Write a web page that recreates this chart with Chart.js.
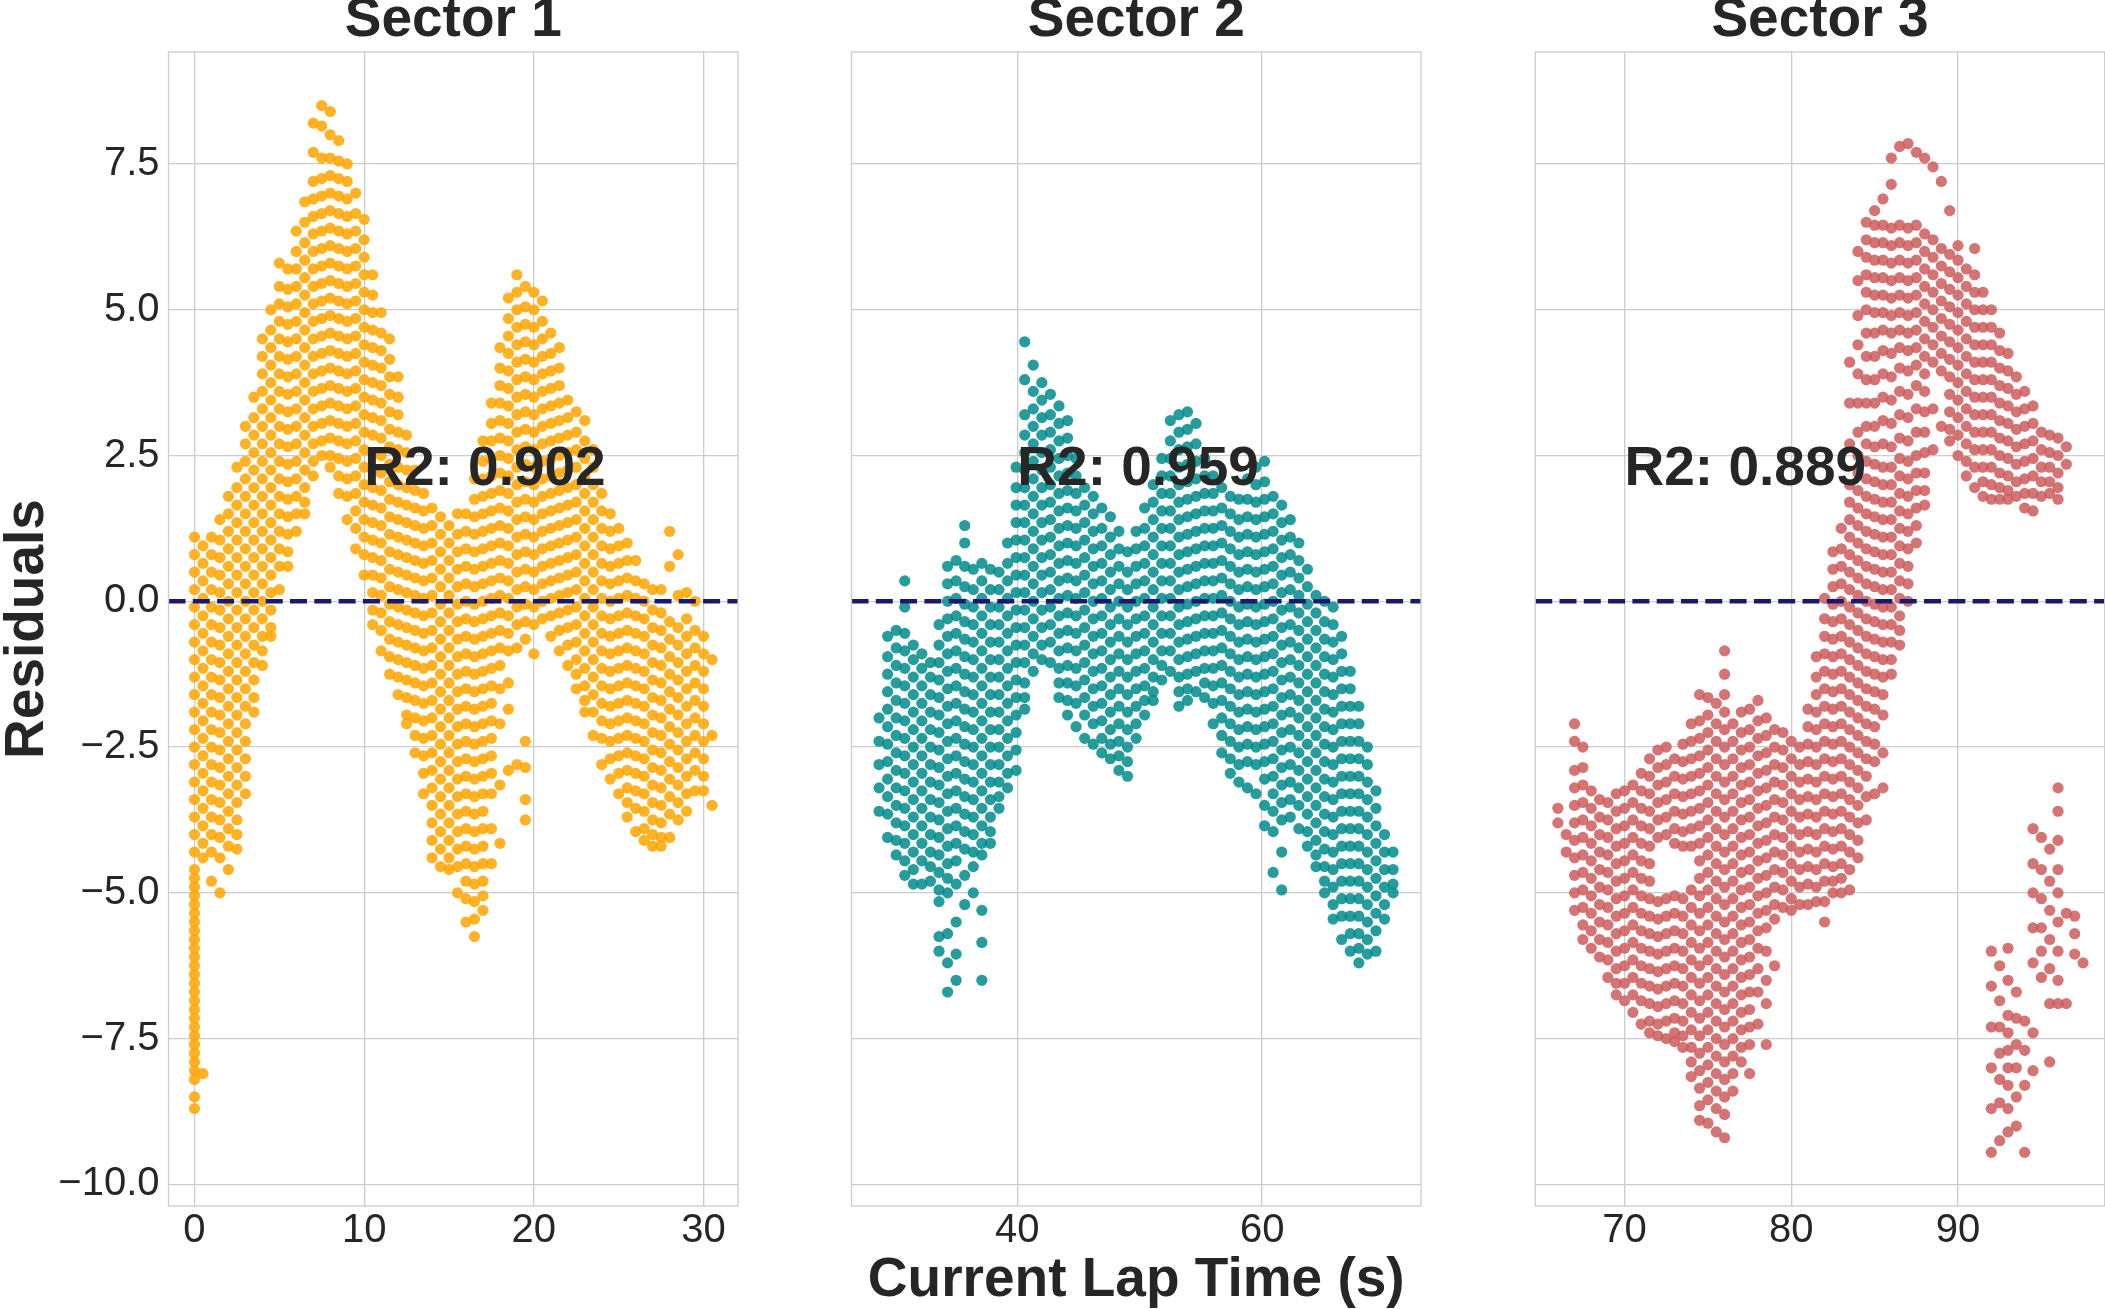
<!DOCTYPE html>
<html>
<head>
<meta charset="utf-8">
<script src="https://cdn.jsdelivr.net/npm/chart.js@4.4.1/dist/chart.umd.min.js"></script>
<style>
  html, body { margin: 0; padding: 0; background: #fff; width: 2105px; height: 1309px; overflow: hidden; }
  canvas { position: absolute; top: 0; }
</style>
</head>
<body>
<canvas id="sector1" width="760" height="1309" style="left:0px"></canvas>
<canvas id="sector2" width="612" height="1309" style="left:830px"></canvas>
<canvas id="sector3" width="612" height="1309" style="left:1514px"></canvas>
<script>
// ---- data ----
const sectorNames = ["Sector 1", "Sector 2", "Sector 3"];
const r2Scores = [0.902, 0.959, 0.889];
const r2LabelX = [10, 40, 70];
const r2LabelY = 2;
const yTicks = [-10, -7.5, -5, -2.5, 0, 2.5, 5, 7.5];
const xTicks1 = [0, 10, 20, 30];
const xTicks2 = [40, 60];
const xTicks3 = [70, 80, 90];

// residuals per lap-time column: [time, [residuals...]]
const sector1Cols = [
  [0, [1.1,0.8,0.5,0.2,-0.1,-0.4,-0.7,-1.0,-1.3,-1.6,-1.9,-2.2,-2.5,-2.8,-3.1,-3.4,-3.7,-4.0,-4.3,-4.6,-4.75,-4.9,-5.05,-5.2,-5.35,-5.5,-5.65,-5.8,-5.95,-6.1,-6.25,-6.4,-6.55,-6.7,-6.85,-7.0,-7.15,-7.3,-7.45,-7.6,-7.75,-7.9,-8.05,-8.2,-8.5,-8.7]],
  [0.5, [0.95,0.65,0.35,0.05,-0.25,-0.55,-0.85,-1.15,-1.45,-1.75,-2.05,-2.35,-2.65,-2.95,-3.25,-3.55,-3.85,-4.15,-4.4,-8.1]],
  [1, [1.1,0.8,0.5,0.2,-0.1,-0.4,-0.7,-1.0,-1.3,-1.6,-1.9,-2.2,-2.5,-2.8,-3.1,-3.4,-3.7,-4.0,-4.3,-4.8]],
  [1.5, [1.4,1.05,0.75,0.45,0.15,-0.15,-0.45,-0.75,-1.05,-1.35,-1.65,-1.95,-2.25,-2.55,-2.85,-3.15,-3.45,-3.75,-4.05,-4.4,-5.0]],
  [2, [1.8,1.5,1.2,0.9,0.6,0.3,0.0,-0.3,-0.6,-0.9,-1.2,-1.5,-1.8,-2.1,-2.4,-2.7,-3.0,-3.3,-3.6,-3.9,-4.2,-4.6]],
  [2.5, [2.3,1.95,1.65,1.35,1.05,0.75,0.45,0.15,-0.15,-0.45,-0.75,-1.05,-1.35,-1.65,-1.95,-2.25,-2.55,-2.85,-3.15,-3.45,-3.75,-4.0,-4.25]],
  [3, [3.0,2.7,2.4,2.1,1.8,1.5,1.2,0.9,0.6,0.3,0.0,-0.3,-0.6,-0.9,-1.2,-1.5,-1.8,-2.1,-2.4,-2.7,-3.0,-3.3]],
  [3.5, [3.5,3.15,2.85,2.55,2.25,1.95,1.65,1.35,1.05,0.75,0.45,0.15,-0.15,-0.45,-0.75,-1.05,-1.35,-1.65,-1.9]],
  [4, [4.5,4.2,3.9,3.6,3.3,3.0,2.7,2.4,2.1,1.8,1.5,1.2,0.9,0.6,0.3,0.0,-0.3,-0.6,-0.85,-1.1]],
  [4.5, [5.0,4.65,4.35,4.05,3.75,3.45,3.15,2.85,2.55,2.25,1.95,1.65,1.35,1.05,0.75,0.45,0.15,-0.15,-0.45,-0.6]],
  [5, [5.8,5.4,5.1,4.8,4.5,4.2,3.9,3.6,3.3,3.0,2.7,2.4,2.1,1.8,1.5,1.2,0.9,0.6,0.2]],
  [5.5, [5.7,5.35,5.05,4.75,4.45,4.15,3.85,3.55,3.25,2.95,2.65,2.35,2.05,1.75,1.45,1.15,0.85,0.6]],
  [6, [6.35,6.0,5.7,5.4,5.1,4.8,4.5,4.2,3.9,3.6,3.3,3.0,2.7,2.4,2.1,1.8,1.5,1.2]],
  [6.5, [6.85,6.5,6.15,5.85,5.55,5.25,4.95,4.65,4.35,4.05,3.75,3.45,3.15,2.85,2.55,2.25,1.95,1.7,1.5]],
  [7, [8.2,7.7,7.2,6.9,6.6,6.3,6.0,5.7,5.4,5.1,4.8,4.5,4.2,3.9,3.6,3.3,3.0,2.7,2.4,2.15]],
  [7.5, [8.5,8.15,7.6,7.25,6.95,6.65,6.35,6.05,5.75,5.45,5.15,4.85,4.55,4.25,3.95,3.65,3.35,3.05,2.75,2.5]],
  [8, [8.4,8.0,7.6,7.3,7.0,6.7,6.4,6.1,5.8,5.5,5.2,4.9,4.6,4.3,4.0,3.7,3.4,3.1,2.8,2.5,2.3]],
  [8.5, [7.9,7.55,7.25,6.95,6.65,6.35,6.05,5.75,5.45,5.15,4.85,4.55,4.25,3.95,3.65,3.35,3.05,2.75,2.45,2.15,1.85]],
  [9, [7.5,7.2,6.9,6.6,6.3,6.0,5.7,5.4,5.1,4.8,4.5,4.2,3.9,3.6,3.3,3.0,2.7,2.4,2.1,1.8,1.4]],
  [9.5, [7.0,6.65,6.35,6.05,5.75,5.45,5.15,4.85,4.55,4.25,3.95,3.65,3.35,3.05,2.75,2.45,2.15,1.85,1.55,1.25,0.9]],
  [10, [6.55,6.2,5.9,5.6,5.3,5.0,4.7,4.4,4.1,3.8,3.5,3.2,2.9,2.6,2.3,2.0,1.7,1.4,1.1,0.8,0.45]],
  [10.5, [5.6,5.25,4.95,4.65,4.35,4.05,3.75,3.45,3.15,2.85,2.55,2.25,1.95,1.65,1.35,1.05,0.75,0.45,0.15,-0.15,-0.4]],
  [11, [4.95,4.6,4.3,4.0,3.7,3.4,3.1,2.8,2.5,2.2,1.9,1.6,1.3,1.0,0.7,0.4,0.1,-0.2,-0.5,-0.85]],
  [11.5, [4.5,4.15,3.85,3.55,3.25,2.95,2.65,2.35,2.05,1.75,1.45,1.15,0.85,0.55,0.25,-0.05,-0.35,-0.65,-0.95,-1.25]],
  [12, [3.85,3.5,3.2,2.9,2.6,2.3,2.0,1.7,1.4,1.1,0.8,0.5,0.2,-0.1,-0.4,-0.7,-1.0,-1.3,-1.6]],
  [12.5, [2.85,2.55,2.25,1.95,1.65,1.35,1.05,0.75,0.45,0.15,-0.15,-0.45,-0.75,-1.05,-1.35,-1.65,-1.95,-2.1]],
  [13, [2.25,1.9,1.6,1.3,1.0,0.7,0.4,0.1,-0.2,-0.5,-0.8,-1.1,-1.4,-1.7,-2.0,-2.3,-2.6]],
  [13.5, [1.85,1.55,1.25,0.95,0.65,0.35,0.05,-0.25,-0.55,-0.85,-1.15,-1.45,-1.75,-2.05,-2.35,-2.65,-2.95,-3.3]],
  [14, [1.6,1.3,1.0,0.7,0.4,0.1,-0.2,-0.5,-0.8,-1.1,-1.4,-1.7,-2.0,-2.3,-2.6,-2.9,-3.2,-3.5,-3.8,-4.1,-4.4]],
  [14.5, [1.45,1.15,0.85,0.55,0.25,-0.05,-0.35,-0.65,-0.95,-1.25,-1.55,-1.85,-2.15,-2.45,-2.75,-3.05,-3.35,-3.65,-3.95,-4.25,-4.55]],
  [15, [1.3,1.0,0.7,0.4,0.1,-0.2,-0.5,-0.8,-1.1,-1.4,-1.7,-2.0,-2.3,-2.6,-2.9,-3.2,-3.5,-3.8,-4.1,-4.4,-4.6]],
  [15.5, [1.5,1.15,0.85,0.55,0.25,-0.05,-0.35,-0.65,-0.95,-1.25,-1.55,-1.85,-2.15,-2.45,-2.75,-3.05,-3.35,-3.65,-3.95,-4.25,-4.55,-5.0]],
  [16, [1.5,1.2,0.9,0.6,0.3,0.0,-0.3,-0.6,-0.9,-1.2,-1.5,-1.8,-2.1,-2.4,-2.7,-3.0,-3.3,-3.6,-3.9,-4.2,-4.5,-4.8,-5.1,-5.5]],
  [16.5, [2.1,1.75,1.45,1.15,0.85,0.55,0.25,-0.05,-0.35,-0.65,-0.95,-1.25,-1.55,-1.85,-2.15,-2.45,-2.75,-3.05,-3.35,-3.65,-3.95,-4.25,-4.55,-4.85,-5.15,-5.45,-5.75]],
  [17, [2.75,2.4,2.1,1.8,1.5,1.2,0.9,0.6,0.3,0.0,-0.3,-0.6,-0.9,-1.2,-1.5,-1.8,-2.1,-2.4,-2.7,-3.0,-3.3,-3.6,-3.9,-4.2,-4.5,-4.8,-5.05,-5.3]],
  [17.5, [3.4,3.05,2.75,2.45,2.15,1.85,1.55,1.25,0.95,0.65,0.35,0.05,-0.25,-0.55,-0.85,-1.15,-1.45,-1.75,-2.05,-2.35,-2.65,-2.95,-3.3,-3.9,-4.5]],
  [18, [4.35,4.0,3.7,3.4,3.1,2.8,2.5,2.2,1.9,1.6,1.3,1.0,0.7,0.4,0.1,-0.2,-0.5,-0.8,-1.1,-1.5,-2.1,-3.15,-4.15]],
  [18.5, [5.2,4.85,4.55,4.25,3.95,3.65,3.35,3.05,2.75,2.45,2.15,1.85,1.55,1.25,0.95,0.65,0.35,0.05,-0.25,-0.55,-0.85,-1.4,-1.85,-2.9]],
  [19, [5.6,5.3,5.0,4.7,4.4,4.1,3.8,3.5,3.2,2.9,2.6,2.3,2.0,1.7,1.4,1.1,0.8,0.5,0.2,-0.1,-0.4,-0.8,-2.8]],
  [19.5, [5.4,5.05,4.75,4.45,4.15,3.85,3.55,3.25,2.95,2.65,2.35,2.05,1.75,1.45,1.15,0.85,0.55,0.25,-0.05,-0.35,-0.65,-2.4,-2.85,-3.4,-3.75]],
  [20, [5.3,5.0,4.7,4.4,4.1,3.8,3.5,3.2,2.9,2.6,2.3,2.0,1.7,1.4,1.1,0.8,0.5,0.2,-0.1,-0.4,-0.9]],
  [20.5, [5.15,4.8,4.5,4.2,3.9,3.6,3.3,3.0,2.7,2.4,2.1,1.8,1.5,1.2,0.9,0.6,0.3,0.0,-0.3]],
  [21, [4.6,4.25,3.95,3.65,3.35,3.05,2.75,2.45,2.15,1.85,1.55,1.25,0.95,0.65,0.35,0.05,-0.25,-0.6]],
  [21.5, [4.35,4.0,3.7,3.4,3.1,2.8,2.5,2.2,1.9,1.6,1.3,1.0,0.7,0.4,0.1,-0.2,-0.5,-0.85]],
  [22, [3.45,3.15,2.85,2.55,2.25,1.95,1.65,1.35,1.05,0.75,0.45,0.15,-0.15,-0.45,-0.75,-1.1]],
  [22.5, [3.25,2.9,2.6,2.3,2.0,1.7,1.4,1.1,0.8,0.5,0.2,-0.1,-0.4,-0.7,-1.0,-1.25,-1.5]],
  [23, [3.1,2.75,2.45,2.15,1.85,1.55,1.25,0.95,0.65,0.35,0.05,-0.25,-0.55,-0.85,-1.15,-1.45,-1.7,-1.9]],
  [23.5, [2.6,2.3,2.0,1.7,1.4,1.1,0.8,0.5,0.2,-0.1,-0.4,-0.7,-1.0,-1.3,-1.6,-1.9,-2.3]],
  [24, [1.85,1.55,1.25,0.95,0.65,0.35,0.05,-0.25,-0.55,-0.85,-1.15,-1.45,-1.75,-2.05,-2.35,-2.8]],
  [24.5, [1.5,1.2,0.9,0.6,0.3,0.0,-0.3,-0.6,-0.9,-1.2,-1.5,-1.8,-2.1,-2.4,-2.7,-3.05]],
  [25, [1.25,0.95,0.65,0.35,0.05,-0.25,-0.55,-0.85,-1.15,-1.45,-1.75,-2.05,-2.35,-2.65,-2.95,-3.3]],
  [25.5, [1.0,0.7,0.4,0.1,-0.2,-0.5,-0.8,-1.1,-1.4,-1.7,-2.0,-2.3,-2.6,-2.9,-3.2,-3.45,-3.7]],
  [26, [0.7,0.35,0.05,-0.25,-0.55,-0.85,-1.15,-1.45,-1.75,-2.05,-2.35,-2.65,-2.95,-3.25,-3.55,-3.95]],
  [26.5, [0.3,0.0,-0.3,-0.6,-0.9,-1.2,-1.5,-1.8,-2.1,-2.4,-2.7,-3.0,-3.3,-3.6,-3.9,-4.1]],
  [27, [0.2,-0.15,-0.45,-0.75,-1.05,-1.35,-1.65,-1.95,-2.25,-2.55,-2.85,-3.15,-3.45,-3.75,-4.0,-4.2]],
  [27.5, [0.2,-0.2,-0.5,-0.8,-1.1,-1.4,-1.7,-2.0,-2.3,-2.6,-2.9,-3.2,-3.5,-3.8,-4.05,-4.2]],
  [28, [1.2,0.6,-0.35,-0.65,-0.95,-1.25,-1.55,-1.85,-2.15,-2.45,-2.75,-3.05,-3.35,-3.65,-4.05]],
  [28.5, [0.8,0.1,-0.45,-0.75,-1.05,-1.35,-1.65,-1.95,-2.25,-2.55,-2.85,-3.15,-3.45,-3.75]],
  [29, [0.15,-0.3,-0.6,-0.9,-1.2,-1.5,-1.8,-2.1,-2.4,-2.7,-3.0,-3.3,-3.6]],
  [29.5, [0.0,-0.5,-0.8,-1.1,-1.4,-1.7,-2.0,-2.3,-2.6,-2.9,-3.25]],
  [30, [-0.6,-0.9,-1.2,-1.5,-1.8,-2.1,-2.4,-2.7,-3.0,-3.25]],
  [30.5, [-1.0,-2.3,-3.5]]
];

const sector2Cols = [
  [28.7, [-2.0,-2.4,-2.8,-3.2,-3.6]],
  [29.4, [-0.6,-0.95,-1.25,-1.55,-1.85,-2.15,-2.45,-2.75,-3.05,-3.35,-3.65,-4.05]],
  [30.1, [-0.5,-0.8,-1.1,-1.4,-1.7,-2.0,-2.3,-2.6,-2.9,-3.2,-3.5,-3.8,-4.1,-4.35]],
  [30.8, [0.35,-0.1,-0.55,-0.85,-1.15,-1.45,-1.75,-2.05,-2.35,-2.65,-2.95,-3.25,-3.55,-3.85,-4.15,-4.45,-4.7]],
  [31.5, [-0.75,-1.0,-1.3,-1.6,-1.9,-2.2,-2.5,-2.8,-3.1,-3.4,-3.7,-4.0,-4.3,-4.6,-4.85]],
  [32.2, [-0.9,-1.15,-1.45,-1.75,-2.05,-2.35,-2.65,-2.95,-3.25,-3.55,-3.85,-4.15,-4.45,-4.85]],
  [32.9, [-1.05,-1.3,-1.6,-1.9,-2.2,-2.5,-2.8,-3.1,-3.4,-3.7,-4.0,-4.3,-4.55,-4.8]],
  [33.6, [-0.4,-0.75,-1.05,-1.35,-1.65,-1.95,-2.25,-2.55,-2.85,-3.15,-3.45,-3.75,-4.05,-4.35,-4.65,-4.95,-5.15,-5.75,-6.0]],
  [34.3, [0.6,0.3,0.0,-0.3,-0.6,-0.9,-1.2,-1.5,-1.8,-2.1,-2.4,-2.7,-3.0,-3.3,-3.6,-3.9,-4.2,-4.5,-4.75,-5.0,-5.7,-6.2,-6.7]],
  [35.0, [0.7,0.35,0.05,-0.25,-0.55,-0.85,-1.15,-1.45,-1.75,-2.05,-2.35,-2.65,-2.95,-3.25,-3.55,-3.85,-4.15,-4.45,-4.85,-5.5,-6.05,-6.5]],
  [35.7, [1.3,1.0,0.6,0.25,-0.05,-0.35,-0.65,-0.95,-1.25,-1.55,-1.85,-2.15,-2.45,-2.75,-3.05,-3.35,-3.65,-3.95,-4.25,-4.7,-5.2]],
  [36.4, [0.55,0.2,-0.1,-0.4,-0.7,-1.0,-1.3,-1.6,-1.9,-2.2,-2.5,-2.8,-3.1,-3.4,-3.7,-4.0,-4.3,-4.55,-5.0]],
  [37.1, [0.65,0.35,0.05,-0.25,-0.55,-0.85,-1.15,-1.45,-1.75,-2.05,-2.35,-2.65,-2.95,-3.25,-3.55,-3.85,-4.15,-4.35,-5.3,-5.85,-6.5]],
  [37.8, [0.55,0.2,-0.1,-0.4,-0.7,-1.0,-1.3,-1.6,-1.9,-2.2,-2.5,-2.8,-3.1,-3.4,-3.7,-3.95,-4.15]],
  [38.5, [0.5,0.2,-0.1,-0.4,-0.7,-1.0,-1.3,-1.6,-1.9,-2.2,-2.5,-2.8,-3.1,-3.35,-3.55]],
  [39.2, [1.0,0.65,0.35,0.05,-0.25,-0.55,-0.85,-1.15,-1.45,-1.75,-2.05,-2.35,-2.65,-2.95,-3.2]],
  [39.9, [2.3,1.95,1.65,1.35,1.05,0.75,0.45,0.15,-0.15,-0.45,-0.75,-1.05,-1.35,-1.65,-1.95,-2.25,-2.55,-2.9]],
  [40.6, [4.45,3.8,3.2,2.85,2.55,2.25,1.95,1.65,1.35,1.05,0.75,0.45,0.15,-0.15,-0.45,-0.75,-1.05,-1.4,-1.65,-1.85]],
  [41.3, [4.05,3.6,3.3,3.0,2.7,2.4,2.1,1.8,1.5,1.2,0.9,0.6,0.3,0.0,-0.3,-0.6,-0.9,-1.2]],
  [42.0, [3.75,3.45,3.15,2.85,2.55,2.25,1.95,1.65,1.35,1.05,0.75,0.45,0.15,-0.15,-0.45,-0.75,-1.0]],
  [42.7, [3.55,3.2,2.9,2.6,2.3,2.0,1.7,1.4,1.1,0.8,0.5,0.2,-0.1,-0.4,-0.7,-1.05]],
  [43.4, [3.35,3.05,2.75,2.45,2.15,1.85,1.55,1.25,0.95,0.65,0.35,0.05,-0.25,-0.55,-0.85,-1.15,-1.4,-1.65]],
  [44.1, [3.1,2.8,2.5,2.2,1.9,1.6,1.3,1.0,0.7,0.4,0.1,-0.2,-0.5,-0.8,-1.1,-1.4,-1.7,-1.95]],
  [44.8, [2.45,2.15,1.85,1.55,1.25,0.95,0.65,0.35,0.05,-0.25,-0.55,-0.85,-1.15,-1.45,-1.75,-2.15]],
  [45.5, [1.95,1.65,1.35,1.05,0.75,0.45,0.15,-0.15,-0.45,-0.75,-1.05,-1.35,-1.65,-1.95,-2.35]],
  [46.2, [1.8,1.5,1.2,0.9,0.6,0.3,0.0,-0.3,-0.6,-0.9,-1.2,-1.5,-1.8,-2.1,-2.45]],
  [46.9, [1.6,1.25,0.95,0.65,0.35,0.05,-0.25,-0.55,-0.85,-1.15,-1.45,-1.75,-2.05,-2.35,-2.6]],
  [47.6, [1.45,1.1,0.8,0.5,0.2,-0.1,-0.4,-0.7,-1.0,-1.3,-1.6,-1.9,-2.2,-2.45,-2.7]],
  [48.3, [1.2,0.9,0.6,0.3,0.0,-0.3,-0.6,-0.9,-1.2,-1.5,-1.8,-2.1,-2.4,-2.65,-2.9]],
  [49.0, [0.85,0.5,0.2,-0.1,-0.4,-0.7,-1.0,-1.3,-1.6,-1.9,-2.2,-2.5,-2.75,-3.0]],
  [49.7, [1.2,0.9,0.6,0.3,0.0,-0.3,-0.6,-0.9,-1.2,-1.5,-1.8,-2.1,-2.35]],
  [50.4, [1.6,1.25,0.95,0.65,0.35,0.05,-0.25,-0.55,-0.85,-1.15,-1.45,-1.7,-1.95]],
  [51.1, [2.0,1.7,1.4,1.1,0.8,0.5,0.2,-0.1,-0.4,-0.7,-1.0,-1.3,-1.55,-1.7]],
  [51.8, [2.45,2.15,1.85,1.55,1.25,0.95,0.65,0.35,0.05,-0.25,-0.55,-0.85,-1.1,-1.35]],
  [52.5, [3.1,2.75,2.45,2.15,1.85,1.55,1.25,0.95,0.65,0.35,0.05,-0.25,-0.55,-0.85,-1.2]],
  [53.2, [3.2,2.9,2.6,2.3,2.0,1.7,1.4,1.1,0.8,0.5,0.2,-0.1,-0.4,-0.7,-1.0,-1.3,-1.55,-1.8]],
  [53.9, [3.25,2.95,2.65,2.35,2.05,1.75,1.45,1.15,0.85,0.55,0.25,-0.05,-0.35,-0.65,-0.95,-1.25,-1.5,-1.7]],
  [54.6, [3.05,2.7,2.4,2.1,1.8,1.5,1.2,0.9,0.6,0.3,0.0,-0.3,-0.6,-0.9,-1.2,-1.55]],
  [55.3, [2.45,2.15,1.85,1.55,1.25,0.95,0.65,0.35,0.05,-0.25,-0.55,-0.85,-1.15,-1.4,-1.65]],
  [56.0, [2.15,1.85,1.55,1.25,0.95,0.65,0.35,0.05,-0.25,-0.55,-0.85,-1.15,-1.45,-1.75,-2.1]],
  [56.7, [1.95,1.6,1.3,1.0,0.7,0.4,0.1,-0.2,-0.5,-0.8,-1.1,-1.4,-1.7,-2.0,-2.3,-2.6]],
  [57.4, [1.8,1.5,1.2,0.9,0.6,0.3,0.0,-0.3,-0.6,-0.9,-1.2,-1.5,-1.8,-2.1,-2.4,-2.7,-2.95]],
  [58.1, [1.75,1.4,1.1,0.8,0.5,0.2,-0.1,-0.4,-0.7,-1.0,-1.3,-1.6,-1.9,-2.2,-2.5,-2.8,-3.1]],
  [58.8, [2.1,1.75,1.45,1.15,0.85,0.55,0.25,-0.05,-0.35,-0.65,-0.95,-1.25,-1.55,-1.85,-2.15,-2.45,-2.75,-3.2]],
  [59.5, [2.3,2.0,1.7,1.4,1.1,0.8,0.5,0.2,-0.1,-0.4,-0.7,-1.0,-1.3,-1.6,-1.9,-2.2,-2.5,-2.8,-3.3]],
  [60.2, [2.4,2.05,1.75,1.45,1.15,0.85,0.55,0.25,-0.05,-0.35,-0.65,-0.95,-1.25,-1.55,-1.85,-2.15,-2.45,-2.75,-3.05,-3.5,-3.85]],
  [60.9, [1.8,1.5,1.2,0.9,0.6,0.3,0.0,-0.3,-0.6,-0.9,-1.2,-1.5,-1.8,-2.1,-2.4,-2.7,-3.0,-3.3,-3.6,-3.95,-4.65]],
  [61.6, [1.65,1.35,1.05,0.75,0.45,0.15,-0.15,-0.45,-0.75,-1.05,-1.35,-1.65,-1.95,-2.25,-2.55,-2.85,-3.15,-3.45,-3.75,-4.3,-4.95]],
  [62.3, [1.4,1.1,0.8,0.5,0.2,-0.1,-0.4,-0.7,-1.0,-1.3,-1.6,-1.9,-2.2,-2.5,-2.8,-3.1,-3.4,-3.7]],
  [63.0, [1.0,0.7,0.4,0.1,-0.2,-0.5,-0.8,-1.1,-1.4,-1.7,-2.0,-2.3,-2.6,-2.9,-3.2,-3.5,-3.9]],
  [63.7, [0.55,0.25,-0.05,-0.35,-0.65,-0.95,-1.25,-1.55,-1.85,-2.15,-2.45,-2.75,-3.05,-3.35,-3.65,-3.95,-4.2]],
  [64.4, [0.1,-0.2,-0.5,-0.8,-1.1,-1.4,-1.7,-2.0,-2.3,-2.6,-2.9,-3.2,-3.5,-3.8,-4.1,-4.35,-4.55]],
  [65.1, [0.0,-0.35,-0.65,-0.95,-1.25,-1.55,-1.85,-2.15,-2.45,-2.75,-3.05,-3.35,-3.65,-3.95,-4.25,-4.55,-4.8,-5.0]],
  [65.8, [-0.1,-0.4,-0.7,-1.0,-1.3,-1.6,-1.9,-2.2,-2.5,-2.8,-3.1,-3.4,-3.7,-4.0,-4.3,-4.6,-4.9,-5.2,-5.45]],
  [66.5, [-0.6,-0.9,-1.2,-1.5,-1.8,-2.1,-2.4,-2.7,-3.0,-3.3,-3.6,-3.9,-4.2,-4.5,-4.8,-5.1,-5.4,-5.8]],
  [67.2, [-1.2,-1.5,-1.8,-2.1,-2.4,-2.7,-3.0,-3.3,-3.6,-3.9,-4.2,-4.5,-4.8,-5.1,-5.4,-5.7,-6.0]],
  [67.9, [-1.8,-2.1,-2.4,-2.7,-3.0,-3.3,-3.6,-3.9,-4.2,-4.5,-4.8,-5.1,-5.4,-5.7,-5.95,-6.2]],
  [68.6, [-2.5,-2.8,-3.1,-3.4,-3.7,-4.0,-4.3,-4.6,-4.9,-5.2,-5.5,-5.8,-6.05]],
  [69.3, [-3.25,-3.55,-3.85,-4.15,-4.45,-4.75,-5.05,-5.35,-5.65,-6.0]],
  [70.0, [-4.0,-4.3,-4.6,-4.9,-5.2,-5.45]],
  [70.7, [-4.3,-4.6,-4.85,-5.0]]
];

const sector3Cols = [
  [66.0, [-3.55,-3.8]],
  [66.5, [-4.0,-4.3]],
  [67.0, [-2.1,-2.4,-2.9,-3.2,-3.5,-3.8,-4.1,-4.4,-4.7,-5.0,-5.3]],
  [67.5, [-2.5,-2.85,-3.15,-3.45,-3.75,-4.05,-4.35,-4.65,-4.95,-5.25,-5.55,-5.8]],
  [68.0, [-3.25,-3.55,-3.85,-4.15,-4.45,-4.75,-5.05,-5.35,-5.65,-5.95]],
  [68.5, [-3.4,-3.7,-4.0,-4.3,-4.6,-4.9,-5.2,-5.5,-5.8,-6.1]],
  [69.0, [-3.45,-3.75,-4.05,-4.35,-4.65,-4.95,-5.25,-5.55,-5.85,-6.15,-6.45]],
  [69.5, [-3.3,-3.6,-3.9,-4.2,-4.5,-4.8,-5.1,-5.4,-5.7,-6.0,-6.3,-6.55,-6.75]],
  [70.0, [-3.25,-3.55,-3.85,-4.15,-4.45,-4.75,-5.05,-5.35,-5.65,-5.95,-6.25,-6.55,-6.85]],
  [70.5, [-3.15,-3.45,-3.75,-4.05,-4.35,-4.65,-4.95,-5.25,-5.55,-5.85,-6.15,-6.45,-6.75,-7.05]],
  [71.0, [-2.95,-3.25,-3.55,-3.85,-4.15,-4.45,-4.75,-5.05,-5.35,-5.65,-5.95,-6.25,-6.55,-6.85,-7.25]],
  [71.5, [-2.7,-3.0,-3.3,-3.6,-3.9,-4.2,-4.5,-4.8,-5.1,-5.4,-5.7,-6.0,-6.3,-6.6,-6.9,-7.2,-7.4]],
  [72.0, [-2.55,-2.85,-3.15,-3.45,-3.75,-4.05,-5.15,-5.45,-5.75,-6.05,-6.35,-6.65,-6.95,-7.25,-7.45]],
  [72.5, [-2.5,-2.8,-3.1,-3.4,-3.7,-4.0,-5.1,-5.4,-5.7,-6.0,-6.3,-6.6,-6.9,-7.2,-7.5]],
  [73.0, [-2.7,-3.0,-3.3,-3.6,-3.9,-4.15,-5.05,-5.35,-5.65,-5.95,-6.25,-6.55,-6.85,-7.15,-7.4,-7.55]],
  [73.5, [-2.45,-2.75,-3.05,-3.35,-3.65,-3.95,-4.2,-5.1,-5.4,-5.7,-6.0,-6.3,-6.6,-6.9,-7.2,-7.45,-7.65]],
  [74.0, [-2.1,-2.4,-2.7,-3.0,-3.3,-3.6,-3.9,-4.2,-4.95,-5.25,-5.55,-5.85,-6.15,-6.45,-6.75,-7.05,-7.35,-7.65,-7.9,-8.15]],
  [74.5, [-1.6,-2.05,-2.35,-2.65,-2.95,-3.25,-3.55,-3.85,-4.15,-4.45,-4.75,-5.05,-5.35,-5.65,-5.95,-6.25,-6.55,-6.85,-7.15,-7.45,-7.75,-8.05,-8.35,-8.65,-8.9]],
  [75.0, [-1.65,-1.95,-2.25,-2.55,-2.85,-3.15,-3.45,-3.75,-4.05,-4.35,-4.65,-4.95,-5.25,-5.55,-5.85,-6.15,-6.45,-6.75,-7.05,-7.35,-7.65,-7.95,-8.25,-8.55,-8.95]],
  [75.5, [-1.75,-2.1,-2.4,-2.7,-3.0,-3.3,-3.6,-3.9,-4.2,-4.5,-4.8,-5.1,-5.4,-5.7,-6.0,-6.3,-6.6,-6.9,-7.2,-7.5,-7.8,-8.1,-8.4,-8.7,-9.1]],
  [76.0, [-0.85,-1.25,-1.6,-1.9,-2.2,-2.5,-2.8,-3.1,-3.4,-3.7,-4.0,-4.3,-4.6,-4.9,-5.2,-5.5,-5.8,-6.1,-6.4,-6.7,-7.0,-7.3,-7.6,-7.9,-8.2,-8.5,-8.8,-9.2]],
  [76.5, [-2.1,-2.4,-2.7,-3.0,-3.3,-3.6,-3.9,-4.2,-4.5,-4.8,-5.1,-5.4,-5.7,-6.0,-6.3,-6.6,-6.9,-7.2,-7.5,-7.8,-8.1,-8.4]],
  [77.0, [-1.9,-2.25,-2.55,-2.85,-3.15,-3.45,-3.75,-4.05,-4.35,-4.65,-4.95,-5.25,-5.55,-5.85,-6.15,-6.45,-6.75,-7.05,-7.35,-7.65,-7.9]],
  [77.5, [-1.85,-2.2,-2.5,-2.8,-3.1,-3.4,-3.7,-4.0,-4.3,-4.6,-4.9,-5.2,-5.5,-5.8,-6.1,-6.4,-6.7,-7.0,-7.3,-7.6,-8.1]],
  [78.0, [-1.7,-2.05,-2.35,-2.65,-2.95,-3.25,-3.55,-3.85,-4.15,-4.45,-4.75,-5.05,-5.35,-5.65,-5.95,-6.3,-6.7,-7.25]],
  [78.5, [-2.0,-2.3,-2.6,-2.9,-3.2,-3.5,-3.8,-4.1,-4.4,-4.7,-5.0,-5.3,-5.6,-6.0,-6.5,-6.9,-7.6]],
  [79.0, [-2.2,-2.5,-2.8,-3.1,-3.4,-3.7,-4.0,-4.3,-4.6,-4.9,-5.2,-5.45,-6.25]],
  [79.5, [-2.25,-2.55,-2.85,-3.15,-3.45,-3.75,-4.05,-4.35,-4.65,-4.95,-5.25]],
  [80.0, [-2.4,-2.7,-3.0,-3.3,-3.6,-3.9,-4.2,-4.5,-4.8,-5.1,-5.3]],
  [80.5, [-2.5,-2.8,-3.1,-3.4,-3.7,-4.0,-4.3,-4.6,-4.9,-5.2]],
  [81.0, [-1.85,-2.15,-2.45,-2.75,-3.05,-3.35,-3.65,-3.95,-4.25,-4.55,-4.85,-5.2]],
  [81.5, [-0.95,-1.3,-1.6,-1.9,-2.2,-2.5,-2.8,-3.1,-3.4,-3.7,-4.0,-4.3,-4.6,-4.9,-5.15]],
  [82.0, [0.05,-0.3,-0.6,-0.9,-1.2,-1.5,-1.8,-2.1,-2.4,-2.7,-3.0,-3.3,-3.6,-3.9,-4.2,-4.5,-4.8,-5.15,-5.5]],
  [82.5, [0.85,0.55,0.25,-0.05,-0.35,-0.65,-0.95,-1.25,-1.55,-1.85,-2.15,-2.45,-2.75,-3.05,-3.35,-3.65,-3.95,-4.25,-4.55,-4.8,-5.0]],
  [83.0, [1.25,0.9,0.6,0.3,0.0,-0.3,-0.6,-0.9,-1.2,-1.5,-1.8,-2.1,-2.4,-2.7,-3.0,-3.3,-3.6,-3.9,-4.2,-4.5,-4.75,-5.0]],
  [83.5, [4.1,3.4,2.7,2.0,1.7,1.4,1.1,0.8,0.5,0.2,-0.1,-0.4,-0.7,-1.0,-1.3,-1.6,-1.9,-2.2,-2.5,-2.8,-3.1,-3.4,-3.7,-4.0,-4.3,-4.6,-4.95]],
  [84.0, [6.0,5.5,4.9,4.4,3.9,3.4,2.9,2.5,2.2,1.9,1.6,1.3,1.0,0.7,0.4,0.1,-0.2,-0.5,-0.8,-1.1,-1.4,-1.7,-2.0,-2.3,-2.6,-2.9,-3.2,-3.5,-3.8,-4.1,-4.4]],
  [84.5, [6.5,6.2,5.9,5.6,5.3,5.0,4.6,4.2,3.8,3.4,3.0,2.7,2.4,2.1,1.8,1.5,1.2,0.9,0.6,0.3,0.0,-0.3,-0.6,-0.9,-1.2,-1.5,-1.8,-2.1,-2.4,-2.7,-3.0,-3.35,-3.75]],
  [85.0, [6.7,6.45,6.15,5.85,5.55,5.25,4.95,4.6,4.2,3.8,3.4,3.0,2.65,2.35,2.05,1.75,1.45,1.15,0.85,0.55,0.25,-0.05,-0.35,-0.65,-0.95,-1.25,-1.55,-1.85,-2.15,-2.45,-2.75,-3.3]],
  [85.5, [6.9,6.45,6.15,5.85,5.55,5.25,4.95,4.65,4.3,3.9,3.5,3.1,2.7,2.3,2.0,1.7,1.4,1.1,0.8,0.5,0.2,-0.1,-0.4,-0.7,-1.0,-1.3,-1.6,-1.95,-2.6,-3.2]],
  [86.0, [7.6,7.15,6.4,6.1,5.8,5.5,5.2,4.9,4.6,4.25,3.85,3.45,3.05,2.65,2.3,2.0,1.7,1.4,1.1,0.8,0.5,0.2,-0.1,-0.4,-0.7,-1.0,-1.25]],
  [86.5, [7.8,6.45,6.15,5.85,5.55,5.25,4.95,4.65,4.35,4.0,3.6,3.2,2.8,2.45,2.15,1.85,1.55,1.25,0.95,0.65,0.35,0.05,-0.25,-0.5,-0.75]],
  [87.0, [7.85,6.4,6.1,5.8,5.5,5.2,4.9,4.6,4.3,3.95,3.55,3.15,2.75,2.4,2.1,1.8,1.5,1.2,0.9,0.6,0.3,0.0]],
  [87.5, [7.7,6.45,6.15,5.85,5.55,5.25,4.95,4.65,4.35,4.05,3.7,3.3,2.9,2.5,2.2,1.9,1.6,1.3,1.0]],
  [88.0, [7.6,6.3,6.0,5.7,5.4,5.1,4.8,4.5,4.2,3.9,3.6,3.25,2.9,2.55,2.2,1.9,1.65]],
  [88.5, [7.45,6.2,5.9,5.6,5.3,5.0,4.7,4.4,4.1,3.3,2.6]],
  [89.0, [7.2,6.05,5.75,5.45,5.15,4.85,4.55,4.25,3.95,3.0]],
  [89.5, [6.7,5.95,5.65,5.35,5.05,4.75,4.45,4.15,3.85,3.55,3.25,2.95,2.75]],
  [90.0, [6.1,5.85,5.55,5.25,4.95,4.65,4.35,4.05,3.75,3.45,3.15,2.85,2.5]],
  [90.5, [5.7,5.4,5.1,4.8,4.5,4.2,3.9,3.6,3.3,3.0,2.7,2.4,2.15]],
  [91.0, [6.05,5.6,5.3,5.0,4.7,4.4,4.1,3.8,3.5,3.2,2.9,2.6,2.3,1.95]],
  [91.5, [5.3,5.0,4.7,4.4,4.1,3.8,3.5,3.2,2.9,2.6,2.3,2.05,1.8]],
  [92.0, [5.0,4.7,4.4,4.1,3.8,3.5,3.2,2.9,2.6,2.3,2.0,1.75,-6.0,-6.6,-7.3,-8.0,-8.7,-9.45]],
  [92.5, [4.6,4.3,4.0,3.7,3.4,3.1,2.8,2.5,2.2,1.95,1.75,-6.25,-6.85,-7.3,-7.75,-8.2,-8.6,-9.25]],
  [93.0, [4.25,3.95,3.65,3.35,3.05,2.75,2.45,2.15,1.9,1.75,-5.95,-6.5,-7.1,-7.4,-7.7,-8.0,-8.3,-8.7,-9.1]],
  [93.5, [3.85,3.55,3.25,2.95,2.65,2.35,2.05,1.8,-6.7,-7.15,-7.6,-8.0,-8.5,-9.0]],
  [94.0, [3.6,3.3,3.0,2.7,2.4,2.1,1.85,1.6,-7.2,-7.7,-8.3,-9.45]],
  [94.5, [3.35,3.05,2.75,2.45,2.15,1.85,1.55,-3.9,-4.5,-5.0,-5.6,-6.2,-7.4,-8.05]],
  [95.0, [2.9,2.6,2.3,2.05,1.8,-4.05,-4.6,-5.1,-5.6,-6.0,-6.45]],
  [95.5, [2.85,2.55,2.3,2.05,1.85,-4.25,-4.8,-5.3,-5.8,-6.3,-6.9,-7.9]],
  [96.0, [2.8,2.5,2.2,1.95,1.75,-3.2,-3.6,-4.1,-4.6,-5.0,-5.5,-6.0,-6.5,-6.9]],
  [96.5, [2.65,2.35,-5.35,-6.9]],
  [97.0, [-5.4,-5.7,-6.05]],
  [97.5, [-6.2]]
];

// ---- styling ----
const FONT = '"Liberation Sans", Arial, Helvetica, sans-serif';
const TEXT = '#262626';
const GRID = '#cccccc';
Chart.defaults.font.family = FONT;
Chart.defaults.color = TEXT;

function toPoints(cols) {
  const pts = [];
  cols.forEach(([x, ys]) => ys.forEach(y => pts.push({ x: x, y: y })));
  return pts;
}

function fmtTick(v) {
  return (v < 0 ? '\u2212' : '') + Math.abs(v).toFixed(1);
}

// frame + R2 annotation drawn on top of the points
const panelDecor = {
  id: 'panelDecor',
  afterDatasetsDraw(chart, args, opts) {
    const { ctx, chartArea: a, scales } = chart;
    ctx.save();
    ctx.strokeStyle = GRID;
    ctx.lineWidth = 1.3;
    ctx.strokeRect(a.left, a.top, a.right - a.left, a.bottom - a.top);
    ctx.font = 'bold 55px ' + FONT;
    ctx.fillStyle = TEXT;
    ctx.textAlign = 'left';
    ctx.textBaseline = 'alphabetic';
    ctx.fillText('R2: ' + opts.r2.toFixed(3), scales.x.getPixelForValue(opts.at), scales.y.getPixelForValue(r2LabelY));
    ctx.restore();
  }
};

function makePanel(id, i, cols, color, xMin, xMax, xTicks, pad, showY, xTitle) {
  return new Chart(document.getElementById(id), {
    type: 'scatter',
    data: {
      datasets: [
        {
          data: [{ x: xMin, y: 0 }, { x: xMax, y: 0 }],
          showLine: true,
          borderColor: '#191970',
          borderWidth: 4.6,
          borderDash: [17, 7.3],
          pointRadius: 0,
          order: 0
        },
        {
          data: toPoints(cols),
          backgroundColor: color,
          borderWidth: 0,
          pointRadius: 5.6,
          order: 1
        }
      ]
    },
    options: {
      responsive: false,
      devicePixelRatio: 1,
      animation: false,
      events: [],
      layout: { padding: { left: pad[0], right: pad[1], top: 0, bottom: 0 } },
      plugins: {
        legend: { display: false },
        tooltip: { enabled: false },
        title: {
          display: true,
          text: sectorNames[i],
          fullSize: false,
          color: TEXT,
          font: { size: 55, weight: 'bold', lineHeight: 0.5 },
          padding: { top: 7.25, bottom: 17.25 }
        },
        panelDecor: { r2: r2Scores[i], at: r2LabelX[i] }
      },
      scales: {
        x: {
          type: 'linear',
          min: xMin,
          max: xMax,
          afterBuildTicks: s => { s.ticks = xTicks.map(v => ({ value: v })); },
          afterFit: s => { s.height = 103; },
          grid: { color: GRID, lineWidth: 1.3, drawTicks: false },
          border: { display: false },
          ticks: {
            padding: 2,
            maxRotation: 0,
            autoSkip: false,
            color: TEXT,
            font: { size: 40, lineHeight: 1.15 },
            callback: v => String(v)
          },
          title: xTitle
            ? { display: true, text: xTitle, color: TEXT, font: { size: 55, weight: 'bold', lineHeight: 1 }, padding: { top: 0, bottom: 1 } }
            : { display: false }
        },
        y: {
          type: 'linear',
          min: -10.37,
          max: 9.42,
          afterBuildTicks: s => { s.ticks = yTicks.map(v => ({ value: v })); },
          afterFit: s => { s.width = showY ? 168.5 : 0; },
          grid: { color: GRID, lineWidth: 1.3, drawTicks: false },
          border: { display: false },
          ticks: {
            display: showY,
            padding: 9,
            color: TEXT,
            font: { size: 40 },
            callback: v => fmtTick(v)
          },
          title: showY
            ? { display: true, text: 'Residuals', color: TEXT, font: { size: 55, weight: 'bold', lineHeight: 1 }, padding: { top: 0.5, bottom: 0 } }
            : { display: false }
        }
      }
    },
    plugins: [panelDecor]
  });
}

makePanel('sector1', 0, sector1Cols, 'rgba(255,165,0,0.85)', -1.53, 32.03, xTicks1, [0, 22], true, null);
makePanel('sector2', 1, sector2Cols, 'rgba(0,139,139,0.85)', 26.45, 72.98, xTicks2, [21.5, 21], false, 'Current Lap Time (s)');
makePanel('sector3', 2, sector3Cols, 'rgba(205,92,92,0.85)', 64.64, 98.8, xTicks3, [21.2, 21.3], false, null);
</script>
</body>
</html>
